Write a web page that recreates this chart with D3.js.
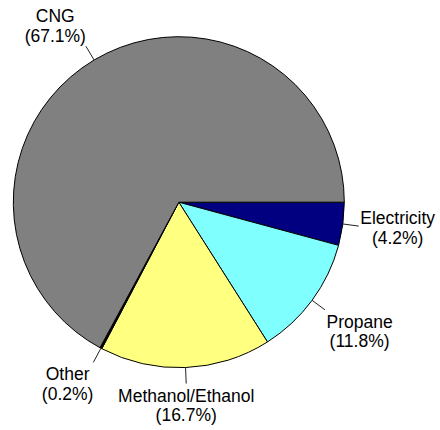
<!DOCTYPE html>
<html>
<head>
<meta charset="utf-8">
<script src="https://cdn.jsdelivr.net/npm/d3@7"></script>
<style>
html,body{margin:0;padding:0;background:#fff;}
svg{display:block;}
text{font-family:"Liberation Sans",Arial,sans-serif;font-size:17.5px;fill:#000;}
</style>
</head>
<body>
<script>
const categories = ["Electricity", "Propane", "Methanol/Ethanol", "Other", "CNG"];
const shares = [4.2, 11.8, 16.7, 0.2, 67.1];
const colors = ["#000080", "#80FFFF", "#FFFF80", "#000000", "#808080"];

const W = 440, H = 430;
const cx = 178.8, cy = 202.2, R = 165.5, lineLen = 16, lineH = 19.5;

const svg = d3.select("body").append("svg").attr("width", W).attr("height", H);
const g = svg.append("g").attr("transform", `translate(${cx},${cy})`);

const pie = d3.pie().sort(null).value(d => d)
  .startAngle(Math.PI / 2).endAngle(Math.PI / 2 + 2 * Math.PI);
const arcs = pie(shares);
const arc = d3.arc().innerRadius(0).outerRadius(R);

g.selectAll("path.slice").data(arcs).enter().append("path")
  .attr("class", "slice")
  .attr("d", arc)
  .attr("fill", (d, i) => colors[i])
  .attr("stroke", "#000")
  .attr("stroke-width", 1)
  .attr("stroke-linejoin", "round");

arcs.forEach((d, i) => {
  const a = (d.startAngle + d.endAngle) / 2; // d3: 0 at 12 o'clock, clockwise
  const sx = Math.sin(a), sy = -Math.cos(a);
  const x1 = sx * R, y1 = sy * R;
  const x2 = sx * (R + lineLen), y2 = sy * (R + lineLen);
  g.append("line").attr("x1", x1).attr("y1", y1).attr("x2", x2).attr("y2", y2)
    .attr("stroke", "#222").attr("stroke-width", 1);

  const lines = [categories[i], "(" + shares[i].toFixed(1) + "%)"];
  const t = g.append("text").attr("text-anchor", "middle");
  const spans = lines.map(s => t.append("tspan").text(s));
  const bw = Math.max(...spans.map(sp => sp.node().getComputedTextLength()));

  let mx;
  if (sx > 0.3) mx = x2 + 1.5 + bw / 2;
  else if (sx < -0.3) mx = x2 - bw / 2;
  else mx = x2;

  let b1;
  if (sy > 0.3) b1 = y2 + 18;
  else if (sy < -0.3) b1 = y2 - 4.6 - lineH;
  else b1 = y2 - 2;

  spans.forEach((sp, k) => sp.attr("x", mx).attr("y", b1 + k * lineH));
});
</script>
</body>
</html>
